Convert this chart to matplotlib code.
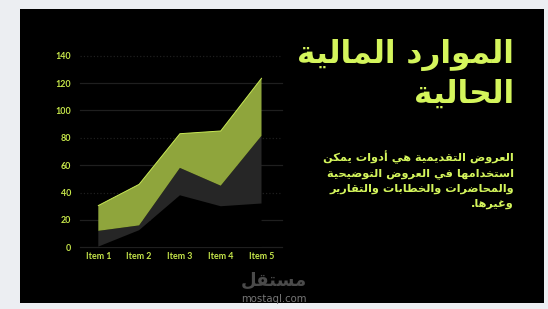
import matplotlib
matplotlib.use('Agg')
import matplotlib.pyplot as plt
from matplotlib.patches import Rectangle

# ---------------- data ----------------
categories = ['Item 1', 'Item 2', 'Item 3', 'Item 4', 'Item 5']
series_a = [0.5, 12.5, 38, 30, 32]
series_b = [11.5, 3.5, 20, 15, 49.5]
series_c = [18.5, 30, 25, 40, 42]
y_ticks = [0, 20, 40, 60, 80, 100, 120, 140]
title_lines = ['الموارد المالية', 'الحالية']
body_lines = ['العروض التقديمية هي أدوات يمكن',
              'استخدامها في العروض التوضيحية',
              'والمحاضرات والخطابات والتقارير',
              'وغيرها.']
watermark_ar = 'مستقل'
watermark_en = 'mostaql.com'

# ---------------- Arabic shaping (presentation forms + visual order) ----------------
DUAL = {'ب': 0xFE8F, 'ت': 0xFE95, 'ث': 0xFE99, 'ج': 0xFE9D, 'ح': 0xFEA1, 'خ': 0xFEA5,
        'س': 0xFEB1, 'ش': 0xFEB5, 'ص': 0xFEB9, 'ض': 0xFEBD, 'ط': 0xFEC1, 'ظ': 0xFEC5,
        'ع': 0xFEC9, 'غ': 0xFECD, 'ف': 0xFED1, 'ق': 0xFED5, 'ك': 0xFED9, 'ل': 0xFEDD,
        'م': 0xFEE1, 'ن': 0xFEE5, 'ه': 0xFEE9, 'ي': 0xFEF1, 'ئ': 0xFE89}
RIGHT = {'ا': 0xFE8D, 'أ': 0xFE83, 'إ': 0xFE87, 'آ': 0xFE81, 'ؤ': 0xFE85, 'ة': 0xFE93,
         'د': 0xFEA9, 'ذ': 0xFEAB, 'ر': 0xFEAD, 'ز': 0xFEAF, 'و': 0xFEED, 'ى': 0xFEEF}
LAMALEF = {'ا': 0xFEFB, 'أ': 0xFEF7, 'إ': 0xFEF9, 'آ': 0xFEF5}


def shape(text):
    toks = []
    i = 0
    while i < len(text):
        c = text[i]
        if c == 'ل' and i + 1 < len(text) and text[i + 1] in LAMALEF:
            toks.append(('R', LAMALEF[text[i + 1]]))
            i += 2
            continue
        if c in DUAL:
            toks.append(('D', DUAL[c]))
        elif c in RIGHT:
            toks.append(('R', RIGHT[c]))
        else:
            toks.append(('N', c))
        i += 1
    out = []
    for k, (kind, val) in enumerate(toks):
        if kind == 'N':
            out.append(val)
            continue
        prev_j = k > 0 and toks[k - 1][0] == 'D'
        next_j = kind == 'D' and k + 1 < len(toks) and toks[k + 1][0] in ('D', 'R')
        if kind == 'D':
            off = 3 if (prev_j and next_j) else 1 if prev_j else 2 if next_j else 0
        else:
            off = 1 if prev_j else 0
        out.append(chr(val + off))
    return ''.join(out)[::-1]


# ---------------- figure ----------------
W, H = 548, 309
fig = plt.figure(figsize=(W / 100, H / 100), dpi=100)
fig.patch.set_facecolor('#eceef2')


def fx(px):
    return px / W


def fy(py):
    return 1 - py / H


fig.patches.append(Rectangle((fx(20), fy(303)), fx(544) - fx(20), fy(9) - fy(303),
                             transform=fig.transFigure, facecolor='#000000',
                             edgecolor='none', zorder=-5))

ax_l, ax_r, ax_t, ax_b = 79.5, 282, 55.7, 247.3
ax = fig.add_axes([fx(ax_l), fy(ax_b), fx(ax_r) - fx(ax_l), fy(ax_t) - fy(ax_b)])
ax.set_facecolor('none')
ax.set_zorder(2)

x = list(range(len(categories)))
ax.stackplot(x, series_a, series_b, series_c,
             colors=['#000000', '#262626', '#8fa53c'], linewidth=0, zorder=3)
top = [a + b + c for a, b, c in zip(series_a, series_b, series_c)]
ax.plot(x, top, color='#c9ea55', linewidth=0.7, zorder=4)

ax.set_xlim(-0.461, 4.502)
ax.set_ylim(0, 140)
for v in y_ticks:
    ls = ':' if v in (140, 80, 40) else '-'
    ax.axhline(v, color='#1f1f1f', linewidth=0.9, linestyle=ls, zorder=1, clip_on=False)

lime = '#d4f55c'
tick_col = '#c6e64a'
ax.set_yticks(y_ticks)
ax.set_yticklabels([str(v) for v in y_ticks])
ax.set_xticks(x)
ax.set_xticklabels(categories)
ax.tick_params(axis='both', length=0, colors=tick_col, labelsize=6.4)
ax.tick_params(axis='y', pad=6)
ax.tick_params(axis='x', pad=3.5)
for lab in ax.get_xticklabels() + ax.get_yticklabels():
    lab.set_fontfamily('Lato')
    lab.set_fontweight('bold')
for s in ax.spines.values():
    s.set_visible(False)

# title
title_font = dict(family=['DejaVu Sans'], fontweight='bold', color=lime, fontsize=22.5)
fig.text(fx(514), fy(63), shape(title_lines[0]), ha='right', va='baseline', **title_font)
fig.text(fx(514), fy(103), shape(title_lines[1]), ha='right', va='baseline', **title_font)

# body
body_font = dict(family=['DejaVu Sans'], fontweight='bold', color=lime, fontsize=8.2)
for i, line in enumerate(body_lines):
    fig.text(fx(514), fy(161 + 15.3 * i), shape(line), ha='right', va='baseline', **body_font)

# watermark
fig.text(fx(274), fy(286), shape(watermark_ar), ha='center', va='baseline',
         family=['DejaVu Sans'], fontweight='bold', color='#4a4a4a', fontsize=13)
fig.text(fx(274), fy(301.5), watermark_en, ha='center', va='baseline',
         family=['DejaVu Sans'], color='#767676', fontsize=7.3)

fig.savefig('out.png', dpi=100, facecolor=fig.get_facecolor())
